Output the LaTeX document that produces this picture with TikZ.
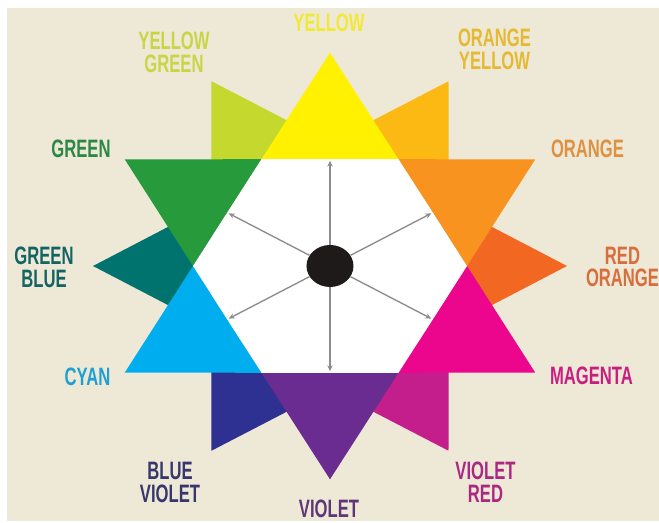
\documentclass[tikz,border=0pt]{standalone}
\usepackage{fontspec}
\usetikzlibrary{arrows.meta,shapes.geometric}
\newfontfamily\labelfont{Liberation Sans}[FakeStretch=0.66]

% wheel colours
\definecolor{paper}{HTML}{EEE8D6}
\definecolor{cyellow}{HTML}{FFF100}
\definecolor{corangeyellow}{HTML}{FDB913}
\definecolor{corange}{HTML}{F7931E}
\definecolor{credorange}{HTML}{F26722}
\definecolor{cmagenta}{HTML}{EC068D}
\definecolor{cvioletred}{HTML}{C41E8C}
\definecolor{cviolet}{HTML}{6A2C91}
\definecolor{cblueviolet}{HTML}{2E3192}
\definecolor{ccyan}{HTML}{00AEEF}
\definecolor{cgreenblue}{HTML}{00736E}
\definecolor{cgreen}{HTML}{279A3C}
\definecolor{cyellowgreen}{HTML}{C4D82E}
\definecolor{raygray}{HTML}{8C8C8C}
\definecolor{dotblack}{HTML}{1E1A1A}

% label colours
\definecolor{tyellow}{HTML}{F2E836}
\definecolor{tyellowgreen}{HTML}{C8D646}
\definecolor{torangeyellow}{HTML}{E6B932}
\definecolor{torange}{HTML}{DE9140}
\definecolor{tredorange}{HTML}{D76E3C}
\definecolor{tmagenta}{HTML}{C81E82}
\definecolor{tvioletred}{HTML}{AA2882}
\definecolor{tviolet}{HTML}{5F3778}
\definecolor{tblueviolet}{HTML}{37376E}
\definecolor{tcyan}{HTML}{1EA0D2}
\definecolor{tgreenblue}{HTML}{146464}
\definecolor{tgreen}{HTML}{2D8746}

\begin{document}
\begin{tikzpicture}[x=0.3mm, y=0.3mm,
    lbl/.style={font=\labelfont\bfseries\fontsize{21.5}{19.5}\selectfont, align=center, inner sep=0pt},
    ray/.style={-{Stealth[length=1.8mm, width=1.6mm]}, draw=raygray, line width=0.4mm},
    hubdot/.style={ellipse, fill=dotblack, minimum width=14.1mm, minimum height=12.6mm, inner sep=0pt}]

    % Page and paper
    \useasboundingbox (-330,-257) rectangle (329,266);
    \fill[paper] (-323,-255.5) rectangle (329,258);

    \begin{scope}[yscale=0.9]
        % Tertiary star (behind)
        \foreach \a/\c in {0/credorange, 60/corangeyellow, 120/cyellowgreen, 180/cgreenblue, 240/cblueviolet, 300/cvioletred}
            \fill[\c] (\a:237) -- ({\a+30}:137) -- ({\a-30}:137) -- cycle;

        % Primary and secondary star
        \foreach \a/\c in {90/cyellow, 30/corange, 330/cmagenta, 270/cviolet, 210/ccyan, 150/cgreen}
            \fill[\c] (\a:237) -- ({\a+30}:137) -- ({\a-30}:137) -- cycle;

        % White centre
        \fill[white] (0:137) -- (60:137) -- (120:137) -- (180:137) -- (240:137) -- (300:137) -- cycle;

        % Arrow ends
        \foreach \a in {30,90,150,210,270,330}
            \coordinate (end\a) at (\a:117);
    \end{scope}

    % Black dot and arrows
    \node[hubdot] (hub) at (0,0) {};
    \foreach \a in {30,90,150,210,270,330}
        \draw[ray] (hub) -- (end\a);

    % Labels
    \node[lbl, text=tyellow] (lyellow) at (-1,243.5) {YELLOW};
    \node[lbl, text=tyellowgreen] (lyellowgreen) at (-156,214) {YELLOW\\GREEN};
    \node[lbl, text=torangeyellow] (lorangeyellow) at (164.5,217) {ORANGE\\YELLOW};
    \node[lbl, text=tgreen] (lgreen) at (-249,117.5) {GREEN};
    \node[lbl, text=torange] (lorange) at (257.5,117) {ORANGE};
    \node[lbl, text=tgreenblue] (lgreenblue) at (-286,-1) {GREEN\\BLUE};
    \node[lbl, text=tredorange] (lredorange) at (292.5,-1) {RED\\ORANGE};
    \node[lbl, text=tcyan] (lcyan) at (-242.5,-110.5) {CYAN};
    \node[lbl, text=tmagenta] (lmagenta) at (261.5,-110) {MAGENTA};
    \node[lbl, text=tblueviolet] (lblueviolet) at (-160,-216.5) {BLUE\\VIOLET};
    \node[lbl, text=tvioletred] (lvioletred) at (155.5,-216.5) {VIOLET\\RED};
    \node[lbl, text=tviolet] (lviolet) at (-1,-242.5) {VIOLET};
\end{tikzpicture}
\end{document}
